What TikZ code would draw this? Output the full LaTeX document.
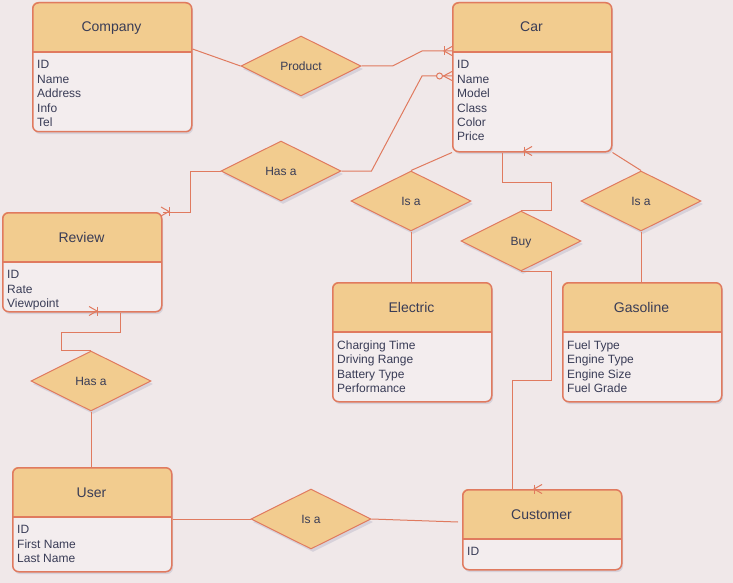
\documentclass[tikz,border=0pt]{standalone}
\usepackage{fontspec}
\setmainfont{Liberation Sans}
\usetikzlibrary{shapes.geometric,shadows,calc}
\definecolor{bgc}{RGB}{240,232,233}
\definecolor{bodyc}{RGB}{243,237,238}
\definecolor{hdrc}{RGB}{242,204,143}
\definecolor{strc}{RGB}{224,122,95}
\definecolor{txtc}{RGB}{57,60,86}
\definecolor{shdc}{RGB}{185,182,200}
\tikzset{
 ebox/.style={draw=strc, line width=1.5pt, rounded corners=6pt, inner sep=0pt, anchor=north west},
 ttl/.style={font=\fontsize{14}{16}\selectfont, text=txtc, text height=10pt, text depth=0pt, inner sep=0pt},
 attr/.style={font=\fontsize{12}{14.4}\selectfont, text=txtc, align=left, anchor=north west, inner sep=0pt},
 rel/.style={shape=diamond, aspect=2, fill=hdrc, draw=strc, line width=1pt, minimum width=120pt, minimum height=60pt, inner sep=1pt, text height=8.6pt, text depth=0pt, font=\fontsize{12}{14}\selectfont, text=txtc, drop shadow={shadow xshift=2pt,shadow yshift=-3pt,opacity=.45,fill=shdc}},
 conn/.style={draw=strc, line width=1pt},
}
\newcommand\erent[7]{%
 \fill[shdc, opacity=.45, rounded corners=6pt] ({#2+2},{#3+3}) rectangle ++(#4,#5);
 \fill[bodyc, rounded corners=6pt] (#2,#3) rectangle ++(#4,#5);
 \begin{scope}\clip (#2,#3) rectangle ++(#4,50);
   \fill[hdrc, rounded corners=6pt] (#2,#3) rectangle ++(#4,#5);\end{scope}
 \node[ebox, minimum width=#4pt, minimum height=#5pt] (#1) at (#2,#3) {};
 \draw[strc, line width=1.5pt] (#2,{#3+50}) -- ++(#4,0);
 \node[ttl] (#1-t) at ({#2+#4/2},{#3+25}) {#6};
 \node[attr] (#1-a) at ({#2+5},{#3+58.4}) {#7};
}
\newcommand\crowmark[3]{%
 \draw[conn] (#1,{#2-4.5}) -- (#1,{#2+4.5});
 \draw[conn] ({#1+8*#3},{#2-4.5}) -- (#1,#2) -- ({#1+8*#3},{#2+4.5});
}
\begin{document}
\begin{tikzpicture}[x=1pt,y=-1pt]
\fill[bgc] (0,0) rectangle (733,583);
\useasboundingbox (0,0) rectangle (733,583);

\erent{company}{32}{2}{159}{129}{Company}{ID\\Name\\Address\\Info\\Tel}
\erent{car}{452}{2}{159}{149}{Car}{ID\\Name\\Model\\Class\\Color\\Price}
\erent{review}{2}{212}{159}{99}{Review}{ID\\Rate\\Viewpoint}
\erent{electric}{332}{282}{159}{119}{Electric}{Charging Time\\Driving Range\\Battery Type\\Performance}
\erent{gasoline}{562}{282}{159}{119}{Gasoline}{Fuel Type\\Engine Type\\Engine Size\\Fuel Grade}
\erent{user}{12}{467}{159}{104}{User}{ID\\First Name\\Last Name}
\erent{customer}{462}{489}{159}{80}{Customer}{ID}

\node[rel] (product) at (301,66) {Product};
\node[rel] (hasa1) at (281,171) {Has a};
\node[rel] (isa1) at (411,201) {Is a};
\node[rel] (buy) at (521,241) {Buy};
\node[rel] (isa2) at (641,201) {Is a};
\node[rel] (hasa2) at (91,381) {Has a};
\node[rel] (isa3) at (311,519) {Is a};

% Company - Product - Car
\draw[conn] ($(company.north east)+(0,47)$) -- (product.west);
\draw[conn] (product.east) -- ++(31,0) -- ($(car.north west)+(-30,49)$) -- ($(car.north west)+(0,49)$);
\crowmark{444}{51}{1}
% Has a - Car
\draw[conn] (hasa1.east) -- ++(30,0) -- ($(car.north west)+(-30,74)$) -- ($(car.north west)+(0,74)$);
\draw[conn] (452,71.5) -- (443.5,76) -- (452,80.5);
\draw[conn, fill=bgc] (439.5,76) circle (3);
% Has a - Review
\draw[conn] (hasa1.west) -- ++(-30,0) |- (review.north east);
\crowmark{169}{211.5}{-1}
% Review - Has a - User
\draw[conn] ($(review.south west)+(118,0)$) -- ++(0,20) -| ($(hasa2.north)+(-30,0)$) -- (hasa2.north);
\crowmark{97}{311}{-1}
\draw[conn] (hasa2.south) -- (hasa2.south |- user.north);
% User - Is a - Customer
\draw[conn] (isa3.west) -- (isa3.west -| user.east);
\draw[conn] (isa3.east) -- ($(customer.north west)+(-4,33)$);
% Car - Is a - Electric / Gasoline
\draw[conn] (car.south west) -- (isa1.north);
\draw[conn] (isa1.south) -- (isa1.south |- electric.north);
\draw[conn] (car.south east) -- (isa2.north);
\draw[conn] (isa2.south) -- (isa2.south |- gasoline.north);
% Car - Buy - Customer
\draw[conn] ($(car.south west)+(50,0)$) -- ++(0,30) -| ($(buy.north)+(30,0)$) -- (buy.north);
\crowmark{524}{151}{1}
\draw[conn] (buy.south) -- ++(30,0) -- ++(0,109) -| ($(customer.north west)+(50,0)$);
\crowmark{534}{489}{1}
\end{tikzpicture}
\end{document}
